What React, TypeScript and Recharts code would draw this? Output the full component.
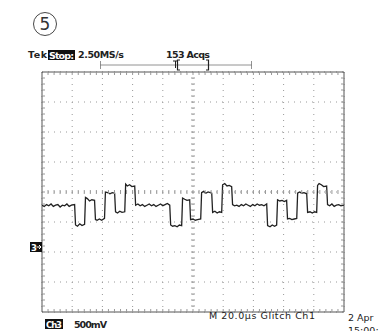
import { ComposedChart, Line, Scatter, XAxis, YAxis, CartesianGrid, ReferenceArea } from "recharts";

// Ch3 capture, 20 µs/div and 500 mV/div
const TIME_US = [
  0, 1.5, 3, 4.5, 6, 7.5, 9, 10.5, 12, 13.5, 15, 16.5, 18, 19.5, 21.6,
  22.2, 23.5, 25, 26.5, 28.2,
  28.8, 30, 31.5, 33, 34.8,
  35.4, 36.5, 38, 39.5, 41.4,
  42, 43.5, 45, 46.5, 48.1,
  48.7, 50, 51.5, 53, 54.8,
  55.4, 56.5, 58, 59.5, 61.4,
  62, 63.5, 65, 66.5, 68, 69.5, 71, 72.5, 74, 75.5, 77, 78.5, 80, 81.5, 83, 84.6,
  85.2, 86.5, 88, 89.5, 91, 92.5,
  93.1, 94.5, 96, 97.8,
  98.4, 100, 101.5, 103, 105.1,
  105.7, 107, 108.5, 110, 112.4,
  113, 114.5, 116, 117.5, 119,
  119.6, 121, 122.5, 124, 125.6,
  126.2, 127.5, 129, 130.5, 132, 133.5, 135, 136.5, 138, 139.5, 141, 142.5, 144, 145.5, 147, 148.8,
  149.4, 151, 152.5, 154, 155.4,
  156, 157.5, 159, 160.5, 162,
  162.6, 164, 165.5, 167, 168.7,
  169.3, 170.5, 172, 173.5, 175.3,
  175.9, 177.5, 179, 180.5, 181.9,
  182.5, 183.5, 185, 186.5, 188.5,
  189.1, 190.5, 192, 193.5, 195, 196.5, 198, 200,
];

const CH3_V = [
  -0.22, -0.24, -0.21, -0.23, -0.2, -0.24, -0.22, -0.21, -0.25, -0.22, -0.23, -0.2, -0.24, -0.22, -0.21,
  -0.55, -0.57, -0.53, -0.56, -0.54,
  -0.09, -0.11, -0.15, -0.13, -0.14,
  -0.46, -0.47, -0.45, -0.47, -0.44,
  0.0, -0.01, -0.03, -0.01, -0.02,
  -0.33, -0.35, -0.32, -0.34, -0.33,
  0.13, 0.1, 0.12, 0.09, 0.1,
  -0.22, -0.2, -0.23, -0.21, -0.24, -0.22, -0.2, -0.23, -0.21, -0.24, -0.22, -0.2, -0.23, -0.21, -0.19, -0.22,
  -0.55, -0.57, -0.56, -0.58, -0.55, -0.56,
  -0.1, -0.12, -0.14, -0.13,
  -0.46, -0.45, -0.47, -0.46, -0.45,
  -0.01, 0.01, -0.02, 0.0, -0.02,
  -0.34, -0.32, -0.35, -0.33, -0.34,
  0.12, 0.14, 0.1, 0.11, 0.09,
  -0.21, -0.23, -0.22, -0.24, -0.21, -0.23, -0.2, -0.22, -0.24, -0.21, -0.23, -0.2, -0.22, -0.21, -0.23, -0.2,
  -0.56, -0.58, -0.55, -0.57, -0.55,
  -0.13, -0.15, -0.14, -0.16, -0.14,
  -0.45, -0.44, -0.46, -0.45, -0.44,
  -0.02, 0.0, -0.02, -0.01, -0.03,
  -0.34, -0.33, -0.35, -0.33, -0.34,
  0.11, 0.14, 0.12, 0.09, 0.1,
  -0.21, -0.23, -0.2, -0.24, -0.22, -0.21, -0.23, -0.22,
];

// graticule: 10 x 8 divisions, 5 minor ticks per division
const X_MAJOR = [0, 20, 40, 60, 80, 100, 120, 140, 160, 180, 200];
const Y_MAJOR = [-2, -1.5, -1, -0.5, 0, 0.5, 1, 1.5, 2];
const X_MINOR = Array.from({ length: 49 }, (_, i) => (i + 1) * 4);
const Y_MINOR = Array.from({ length: 39 }, (_, i) => Math.round((-1.9 + i * 0.1) * 100) / 100);

const trace = TIME_US.map((t, i) => ({ t, v: CH3_V[i] }));

const GRID = "#999";
const FRAME = "#555";
const INK = "#222";
const FONT = "'DejaVu Sans', sans-serif";

const vTick = (dy1: number, dy2: number) => (p: any) => (
  <line x1={p.cx} y1={p.cy + dy1} x2={p.cx} y2={p.cy + dy2} stroke={GRID} strokeWidth={1} />
);
const hTick = (dx1: number, dx2: number) => (p: any) => (
  <line x1={p.cx + dx1} y1={p.cy} x2={p.cx + dx2} y2={p.cy} stroke={GRID} strokeWidth={1} />
);

export default function App() {
  return (
    <div style={{ position: "absolute", left: 0, top: 0, width: 379, height: 331, background: "#fff", overflow: "hidden" }}>
      <ComposedChart width={379} height={331} margin={{ top: 72, right: 35, bottom: 19, left: 42 }}>
        <XAxis xAxisId="t" dataKey="t" type="number" domain={[0, 200]} ticks={X_MAJOR} allowDataOverflow hide />
        <YAxis yAxisId="v" type="number" domain={[-2, 2]} ticks={Y_MAJOR} allowDataOverflow hide />
        <CartesianGrid xAxisId="t" yAxisId="v" stroke={GRID} strokeDasharray="1 5" />
        <ReferenceArea xAxisId="t" yAxisId="v" x1={0} x2={200} y1={-2} y2={2} fill="none" stroke={FRAME} strokeWidth={1} />
        <Scatter xAxisId="t" yAxisId="v" data={X_MINOR.map((t) => ({ t, v: 2 }))} dataKey="v" shape={vTick(0, 3)} isAnimationActive={false} />
        <Scatter xAxisId="t" yAxisId="v" data={X_MINOR.map((t) => ({ t, v: -2 }))} dataKey="v" shape={vTick(-3, 0)} isAnimationActive={false} />
        <Scatter xAxisId="t" yAxisId="v" data={X_MINOR.map((t) => ({ t, v: 0 }))} dataKey="v" shape={vTick(-2, 2)} isAnimationActive={false} />
        <Scatter xAxisId="t" yAxisId="v" data={Y_MINOR.map((v) => ({ t: 0, v }))} dataKey="v" shape={hTick(0, 3)} isAnimationActive={false} />
        <Scatter xAxisId="t" yAxisId="v" data={Y_MINOR.map((v) => ({ t: 200, v }))} dataKey="v" shape={hTick(-3, 0)} isAnimationActive={false} />
        <Scatter xAxisId="t" yAxisId="v" data={Y_MINOR.map((v) => ({ t: 100, v }))} dataKey="v" shape={hTick(-2, 2)} isAnimationActive={false} />
        <Line xAxisId="t" yAxisId="v" data={trace} dataKey="v" type="linear" dot={false} stroke={INK} strokeWidth={1.3} isAnimationActive={false} />
      </ComposedChart>

      {/* scope readouts around the graticule */}
      <svg width={379} height={331} style={{ position: "absolute", left: 0, top: 0, pointerEvents: "none" }}>
        <circle cx={45} cy={24} r={11.5} fill="none" stroke="#333" strokeWidth={0.9} />
        <text x={45} y={30} textAnchor="middle" fontFamily={FONT} fontSize={17} fill="#333">5</text>

        <text x={28} y={58} fontFamily={FONT} fontSize={9.5} fontWeight="bold" fill={INK} textLength={19}>Tek</text>
        <rect x={48} y={50} width={27} height={10} fill="#111" />
        <text x={49} y={58.5} fontFamily={FONT} fontSize={9.5} fontWeight="bold" fill="#fff" textLength={25}>Stop:</text>
        <text x={78} y={58} fontFamily={FONT} fontSize={9.5} fontWeight="bold" fill={INK} textLength={46}>2.50MS/s</text>
        <text x={166} y={58} fontFamily={FONT} fontSize={9.5} fontWeight="bold" fill={INK} textLength={44}>153 Acqs</text>

        <line x1={100} y1={65} x2={252} y2={65} stroke="#777" strokeWidth={0.8} />
        <line x1={100.5} y1={61} x2={100.5} y2={69} stroke="#777" strokeWidth={0.8} />
        <line x1={251.5} y1={61} x2={251.5} y2={69} stroke="#777" strokeWidth={0.8} />
        <path d="M180 60 H177.5 V70 H180" fill="none" stroke={INK} strokeWidth={1.2} />
        <path d="M206 60 H208.5 V70 H206" fill="none" stroke={INK} strokeWidth={1.2} />
        <path d="M173 61 H178 M175.5 61 V68" fill="none" stroke={INK} strokeWidth={1} />

        <rect x={30} y={242} width={12} height={10} fill="#111" />
        <text x={31} y={250.5} fontFamily={FONT} fontSize={8.5} fontWeight="bold" fill="#fff">3</text>
        <path d="M36.5 247 H41 M39 245 L41 247 L39 249" fill="none" stroke="#fff" strokeWidth={1} />

        <text x={209} y={319} fontFamily={FONT} fontSize={9.5} fill={INK} textLength={106}>M 20.0µs  Glitch  Ch1</text>
        <text x={348} y={321} fontFamily={FONT} fontSize={9.5} fill={INK}>2 Apr</text>
        <text x={348} y={334} fontFamily={FONT} fontSize={9.5} fill={INK}>15:00:</text>
        <rect x={45} y={319} width={18} height={10} fill="#111" />
        <text x={46} y={327.5} fontFamily={FONT} fontSize={8.5} fontWeight="bold" fill="#fff" textLength={16}>Ch3</text>
        <text x={74} y={328} fontFamily={FONT} fontSize={9.5} fontWeight="bold" fill={INK} textLength={33}>500mV</text>
      </svg>
    </div>
  );
}
